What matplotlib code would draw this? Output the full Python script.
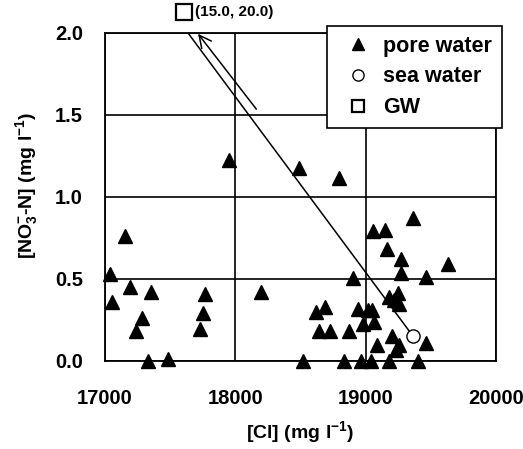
import matplotlib
matplotlib.use("Agg")
import matplotlib.pyplot as plt

plt.rcParams['font.family'] = ['Liberation Sans', 'DejaVu Sans']
plt.rcParams['font.weight'] = 'bold'
plt.rcParams['mathtext.fontset'] = 'custom'
plt.rcParams['mathtext.rm'] = 'Liberation Sans:bold'
plt.rcParams['mathtext.bf'] = 'Liberation Sans:bold'
plt.rcParams['mathtext.it'] = 'Liberation Sans:bold'
plt.rcParams['mathtext.default'] = 'bf'

# pore water data: Cl (mg/l), NO3-N (mg/l)
pore_cl = [17040, 17155, 17055, 17195, 17350, 17285, 17235, 17330, 17485,
           17770, 17750, 17730, 17955, 18200, 18490, 18795, 18905,
           19060, 19150, 19160, 19360, 19270, 19630, 19270, 19460,
           19180, 19250, 19215, 19255, 18620, 18690, 18940, 19015, 19050,
           18980, 19065, 18645, 18725, 18870, 19200, 19090, 19255, 19235,
           19460, 18520, 18837, 18965, 19040, 19180, 19405]
pore_no3 = [0.53, 0.76, 0.36, 0.45, 0.42, 0.265, 0.185, 0.0, 0.01,
            0.41, 0.29, 0.195, 1.225, 0.42, 1.175, 1.115, 0.505,
            0.79, 0.80, 0.685, 0.875, 0.62, 0.59, 0.535, 0.515,
            0.39, 0.415, 0.37, 0.35, 0.30, 0.33, 0.32, 0.31, 0.31,
            0.225, 0.235, 0.18, 0.185, 0.18, 0.155, 0.10, 0.095, 0.065,
            0.11, 0.0, 0.0, 0.0, 0.0, 0.0, 0.0]

sea_cl = [19360]
sea_no3 = [0.155]

# GW marker shown above the plot (off-scale), with its label
gw_cl = [17604]
gw_no3 = [2.128]
gw_label = "(15.0, 20.0)"

# mixing line from sea water toward GW (clipped at top)
mix_cl = [19360, 17637]
mix_no3 = [0.155, 2.0]

# arrow toward GW
arrow_tail = (18161, 1.536)
arrow_head = (17714, 1.995)

xticks = [17000, 18000, 19000, 20000]
yticks = [0.0, 0.5, 1.0, 1.5, 2.0]

fig = plt.figure(figsize=(5.23, 4.49), dpi=100)
ax = fig.add_axes([105/523, 1-361/449, (496-105)/523, (361-33)/449])
ax.set_xlim(17000, 20000)
ax.set_ylim(0, 2.0)
ax.set_xticks(xticks)
ax.set_yticks(yticks)
ax.set_xticklabels([str(t) for t in xticks])
ax.set_yticklabels([f"{t:.1f}" for t in yticks])
ax.tick_params(length=0, labelsize=14.5)
ax.tick_params(axis='y', pad=16)
ax.tick_params(axis='x', pad=20)
ax.grid(True, color='black', linewidth=1.2)
ax.set_axisbelow(True)
for s in ax.spines.values():
    s.set_linewidth(1.3)
    s.set_color('black')

ax.plot(mix_cl, mix_no3, color='black', linewidth=1.1, zorder=2)
ax.annotate('', xy=arrow_head, xytext=arrow_tail,
            arrowprops=dict(arrowstyle='->', color='black', lw=1.1,
                            mutation_scale=22, shrinkA=0, shrinkB=0),
            annotation_clip=False, zorder=3)

ax.plot(pore_cl, pore_no3, linestyle='none', marker='^', markersize=9.5,
        color='black', clip_on=False, zorder=4, label='pore water')
ax.plot(sea_cl, sea_no3, linestyle='none', marker='o', markersize=9.5,
        markerfacecolor='white', markeredgecolor='black', markeredgewidth=1.0,
        clip_on=False, zorder=5, label='sea water')
ax.plot(gw_cl, gw_no3, linestyle='none', marker='s', markersize=11,
        markerfacecolor='white', markeredgecolor='black', markeredgewidth=1.6,
        clip_on=False, zorder=5, label='GW')
ax.annotate(gw_label, xy=(gw_cl[0], gw_no3[0]), xytext=(8, 0),
            textcoords='offset points', ha='left', va='center',
            fontsize=11, fontweight='bold', annotation_clip=False)

leg = ax.legend(loc='upper left', bbox_to_anchor=(327/523, 1-26/449),
                bbox_transform=fig.transFigure, fontsize=15.5, frameon=True,
                fancybox=False, edgecolor='black', framealpha=1,
                handletextpad=0.15, borderpad=0.45, labelspacing=0.45,
                handlelength=2.0, borderaxespad=0, markerscale=0.85)
leg.get_frame().set_linewidth(1.2)
leg.set_zorder(10)

fig.text(300/523, 1-432/449, '[Cl] (mg l$^{-1}$)', ha='center', va='center',
         fontsize=14, fontweight='bold')
fig.text(27/523, 1-185/449, '[NO$_3^{-}$-N] (mg l$^{-1}$)', ha='center',
         va='center', rotation=90, fontsize=14, fontweight='bold')

fig.savefig('out.png', dpi=100)
